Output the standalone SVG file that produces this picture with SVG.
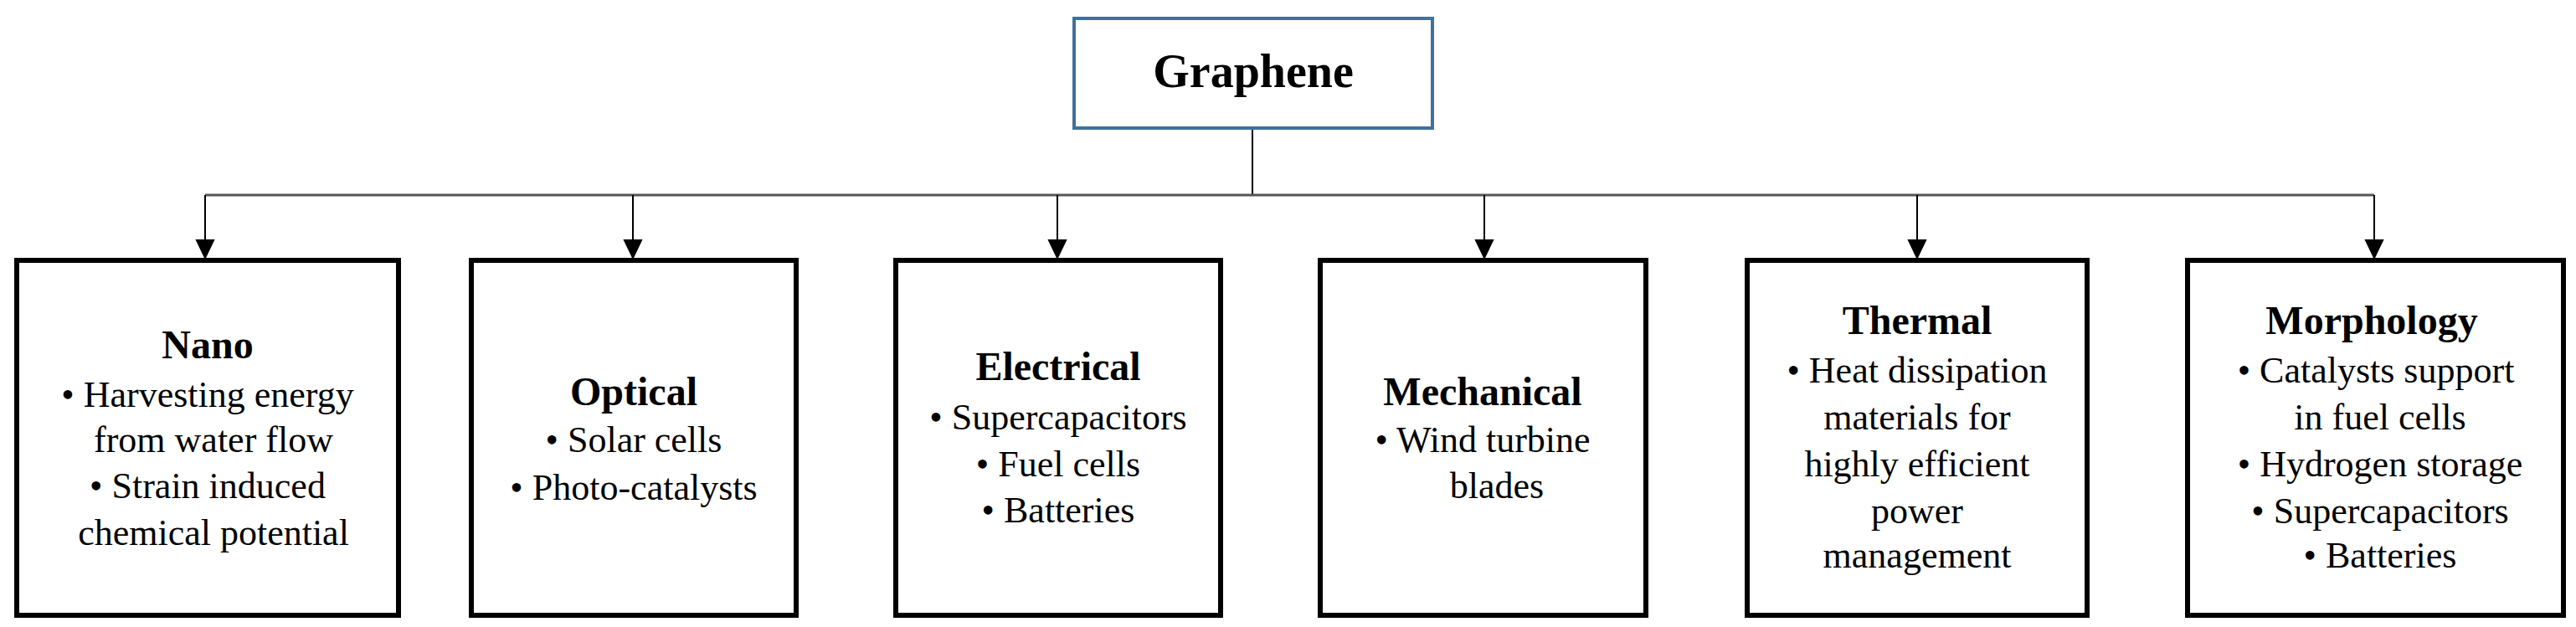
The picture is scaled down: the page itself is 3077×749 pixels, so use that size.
<svg xmlns="http://www.w3.org/2000/svg" width="3077" height="749" viewBox="0 0 3077 749">
<style>
.b{fill:#fff;stroke:#000;stroke-width:6}
.t{font-family:"Liberation Serif",serif;font-size:44px;text-anchor:middle;fill:#000}
.h{font-weight:bold;font-size:48px}
.c{stroke:#000;stroke-width:2;fill:none}
</style>
<defs><marker id="a" markerWidth="10" markerHeight="10" refX="10" refY="5" orient="auto" markerUnits="userSpaceOnUse" viewBox="0 0 10 10"><path d="M0,0 L10,5 L0,10 z" fill="#000"/></marker></defs>
<rect width="3077" height="749" fill="#fff"/>
<g id="connectors">
<line class="c" x1="1496" y1="153" x2="1496" y2="233"/>
<line x1="245" y1="233" x2="2836" y2="233" stroke="#555" stroke-width="3"/>
<path class="c" d="M245,233V307M756,233V307M1263,233V307M1773,233V307M2290,233V307M2836,233V307" marker-end="url(#a)"/>
<g stroke="#000" stroke-width="2" fill="#000">
<path d="M235,287 L255,287 L245,308z"/><path d="M746,287 L766,287 L756,308z"/><path d="M1253,287 L1273,287 L1263,308z"/><path d="M1763,287 L1783,287 L1773,308z"/><path d="M2280,287 L2300,287 L2290,308z"/><path d="M2826,287 L2846,287 L2836,308z"/>
</g>
</g>
<g id="graphene"><rect x="1283" y="22" width="428" height="131" fill="#fff" stroke="#41719c" stroke-width="4"/><text class="t h" x="1497" y="104" style="font-size:56px">Graphene</text></g>
<g id="nano"><rect class="b" x="20" y="311" width="456" height="424"/>
<text class="t h" x="248" y="428">Nano</text>
<text class="t" x="248" y="486">• Harvesting energy</text>
<text class="t" x="255" y="540">from water flow</text>
<text class="t" x="248" y="595">• Strain induced</text>
<text class="t" x="255" y="651">chemical potential</text></g>
<g id="optical"><rect class="b" x="563" y="311" width="388" height="424"/>
<text class="t h" x="757" y="484">Optical</text>
<text class="t" x="757" y="540">•  Solar cells</text>
<text class="t" x="757" y="597">•  Photo-catalysts</text></g>
<g id="electrical"><rect class="b" x="1070" y="311" width="388" height="424"/>
<text class="t h" x="1264" y="454">Electrical</text>
<text class="t" x="1264" y="513">• Supercapacitors</text>
<text class="t" x="1264" y="569">• Fuel cells</text>
<text class="t" x="1264" y="624">• Batteries</text></g>
<g id="mechanical"><rect class="b" x="1577" y="311" width="389" height="424"/>
<text class="t h" x="1771" y="484">Mechanical</text>
<text class="t" x="1771" y="540">•  Wind turbine</text>
<text class="t" x="1788" y="595">blades</text></g>
<g id="thermal"><rect class="b" x="2087" y="311" width="406" height="424"/>
<text class="t h" x="2290" y="399">Thermal</text>
<text class="t" x="2290" y="457">• Heat dissipation</text>
<text class="t" x="2290" y="513">materials for</text>
<text class="t" x="2290" y="569">highly efficient</text>
<text class="t" x="2290" y="625">power</text>
<text class="t" x="2290" y="678">management</text></g>
<g id="morphology"><rect class="b" x="2613" y="311" width="449" height="424"/>
<text class="t h" x="2833" y="399">Morphology</text>
<text class="t" x="2838" y="457">• Catalysts support</text>
<text class="t" x="2843" y="513">in fuel cells</text>
<text class="t" x="2843" y="569">•  Hydrogen storage</text>
<text class="t" x="2843" y="625">•  Supercapacitors</text>
<text class="t" x="2843" y="678">•  Batteries</text></g>
</svg>
